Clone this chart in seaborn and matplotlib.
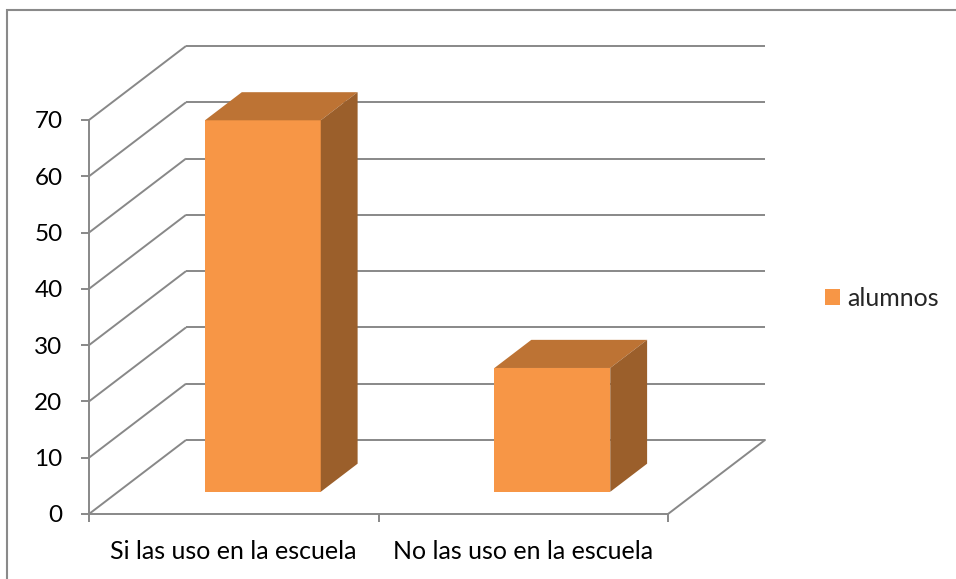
import matplotlib
matplotlib.use('Agg')
import matplotlib.pyplot as plt
import seaborn as sns
import pandas as pd
from matplotlib.patches import Polygon, Rectangle, Patch
from matplotlib.transforms import Affine2D

# ---- data ----
categorias = ["Si las uso en la escuela", "No las uso en la escuela"]
alumnos = [66, 22]
serie = "alumnos"
yticks = [0, 10, 20, 30, 40, 50, 60, 70]

sns.set_theme(style='white')
plt.rcParams['font.family'] = ['Lato', 'DejaVu Sans']

W, H = 956, 579
fig = plt.figure(figsize=(W / 100, H / 100), dpi=100)
fig.patch.set_facecolor('white')

# layout (pixels)
x0px, y0px = 89, 514
pxx = 289.5
pxy = 394 / 70
right_px, top_px = 768, 40
ax = fig.add_axes([x0px / W, (H - y0px) / H, (right_px - x0px) / W, (y0px - top_px) / H])
ax.set_facecolor('none')
xmax = -0.5 + (right_px - x0px) / pxx
ymax = (y0px - top_px) / pxy

DX = 97 / pxx
DY = 74 / pxy
t0, t1 = 0.30, 0.68
front = '#F79646'
topc = '#BD7334'
sidec = '#9B5F2B'
grid = '#888888'
lw = 1.4
fs = 18

df = pd.DataFrame({'categoria': categorias, 'valor': alumnos})
sns.barplot(data=df, x='categoria', y='valor', color=front, width=0.4,
            saturation=1, ax=ax, zorder=3, linewidth=0, errorbar=None)

ox, oy = t0 * DX, t0 * DY
dd, dy = (t1 - t0) * DX, (t1 - t0) * DY
for p in list(ax.patches):
    x, w, h = p.get_x(), p.get_width(), p.get_height()
    p.set_transform(Affine2D().translate(ox, oy) + ax.transData)
    p.set_clip_on(False)
    topp = Polygon([(x + ox, h + oy), (x + w + ox, h + oy),
                    (x + w + ox + dd, h + oy + dy), (x + ox + dd, h + oy + dy)],
                   closed=True, facecolor=topc, edgecolor='none', zorder=3, clip_on=False)
    sidep = Polygon([(x + w + ox, oy), (x + w + ox, h + oy),
                     (x + w + ox + dd, h + oy + dy), (x + w + ox + dd, oy + dy)],
                    closed=True, facecolor=sidec, edgecolor='none', zorder=3, clip_on=False)
    ax.add_patch(topp)
    ax.add_patch(sidep)

# 3D walls / gridlines
for v in yticks:
    ax.plot([-0.5, -0.5 + DX], [v, v + DY], color=grid, lw=lw, zorder=1, clip_on=False,
            solid_capstyle='butt')
    ax.plot([-0.5 + DX, 1.5 + DX], [v + DY, v + DY], color=grid, lw=lw, zorder=1,
            clip_on=False, solid_capstyle='butt')
ax.plot([1.5, 1.5 + DX], [0, DY], color=grid, lw=lw, zorder=1, clip_on=False)

ax.set_xlim(-0.5, xmax)
ax.set_ylim(0, ymax)
for s in ['top', 'right']:
    ax.spines[s].set_visible(False)
ax.spines['left'].set_bounds(0, 70)
ax.spines['bottom'].set_bounds(-0.5, 1.5)
for s in ['left', 'bottom']:
    ax.spines[s].set_color(grid)
    ax.spines[s].set_linewidth(lw)
    ax.spines[s].set_zorder(2)

ax.set_yticks(yticks)
ax.set_yticklabels([str(t) for t in yticks])
ax.tick_params(axis='y', left=True, length=6, width=lw, color=grid, labelsize=fs - 0.5,
               pad=13, labelcolor='black')
ax.set_xticks([0, 1])
ax.set_xticklabels(categorias)
ax.set_xticks([-0.5, 0.5, 1.5], minor=True)
ax.tick_params(axis='x', which='major', bottom=True, length=0, labelsize=fs, pad=19,
               labelcolor='black')
ax.tick_params(axis='x', which='minor', bottom=True, length=6, width=lw, color=grid)
ax.set_xlabel('')
ax.set_ylabel('')

fig.legend(handles=[Patch(facecolor=front, edgecolor='none', label=serie)],
           loc='center left', bbox_to_anchor=(825 / W, 1 - 298 / H), frameon=False,
           fontsize=fs, handlelength=0.6, handleheight=0.6, handletextpad=0.3,
           borderpad=0, borderaxespad=0)

# outer chart border (cropped at right and bottom)
fig.add_artist(Rectangle((7 / W, -0.1), 1.2, (1 - 10 / H) + 0.1, transform=fig.transFigure,
                         facecolor='none', edgecolor='#8a8a8a', lw=1.5))

fig.savefig('out.png', dpi=100)
